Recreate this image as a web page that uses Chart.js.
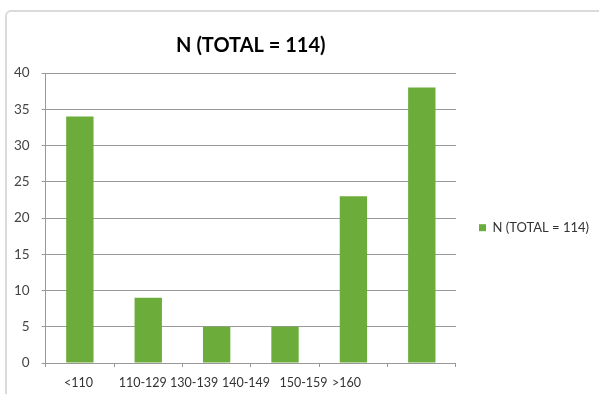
<!DOCTYPE html>
<html>
<head>
<meta charset="utf-8">
<script src="https://cdn.jsdelivr.net/npm/chart.js@4"></script>
<style>
  html, body { margin: 0; padding: 0; background: #fff; overflow: hidden; }
  #frame { position: absolute; left: 5px; top: 10px; width: 610px; height: 400px;
           border: 2px solid #dadada; border-radius: 6px; box-sizing: border-box; }
  #Graph { position: absolute; left: 0; top: 0; }
</style>
</head>
<body>
<div id="frame"></div>
<canvas id="Graph" width="599" height="394"></canvas>
<script>
// counts per class
var categories = ["<110", "110-129", "130-139", "140-149", "150-159", ">160"];
var counts = [34, 9, 5, 5, 23, 38];
var seriesName = "N (TOTAL = 114)";
// where the category labels sit along the axis (in category units, as in the source)
var labelSpots = [0.48, 1.42, 2.17, 2.93, 3.77, 4.40];
var yTicks = [0, 5, 10, 15, 20, 25, 30, 35, 40];

var green = "#6cac3b";

var chart = new Chart("Graph", {
    type: "bar",
    data: {
      labels: categories,
      datasets: [{
        label: seriesName,
        data: counts,
        backgroundColor: green,
        borderWidth: 0,
        categoryPercentage: 1,
        barPercentage: 0.4
      }]
    },
    options: {
        responsive: false,
        devicePixelRatio: 1,
        animation: false,
        layout: { padding: { top: 34, left: 2, right: 0, bottom: 4 } },
        plugins: {
          title: {
            display: true,
            text: seriesName,
            fullSize: false,
            color: "#000",
            font: { family: "Lato", size: 20, weight: "bold" },
            padding: { top: 0, bottom: 15 }
          },
          legend: {
            position: "right",
            fullSize: false,
            title: { display: true, text: "", padding: { top: 5, bottom: 0 } },
            labels: {
              boxWidth: 7,
              boxHeight: 7,
              padding: 23,
              color: "#333",
              font: { family: "Lato", size: 13 }
            }
          },
          tooltip: { enabled: false }
        },
        scales: {
          x: {
            position: "bottom",
            grid: { drawOnChartArea: false, drawTicks: true, tickLength: 4, color: "#999" },
            border: { color: "#999" },
            ticks: { display: false }
          },
          xl: {
            type: "linear",
            position: "bottom",
            offset: false,
            min: 0,
            max: categories.length,
            grid: { display: false },
            border: { display: false },
            afterBuildTicks: function(axis) {
              axis.ticks = labelSpots.map(function(v) { return { value: v }; });
            },
            ticks: {
              autoSkip: false,
              maxRotation: 0,
              padding: 0,
              color: "#333",
              font: { family: "Lato", size: 12.5 },
              callback: function(v, i) { return categories[i]; }
            }
          },
          y: {
            min: 0,
            max: 40,
            afterBuildTicks: function(axis) {
              axis.ticks = yTicks.map(function(v) { return { value: v }; });
            },
            grid: { color: "#999", tickLength: 4 },
            border: { color: "#999" },
            ticks: {
              padding: 12,
              color: "#444",
              font: { family: "Lato", size: 13.5 }
            }
          }
        }
    }
});
</script>
</body>
</html>
